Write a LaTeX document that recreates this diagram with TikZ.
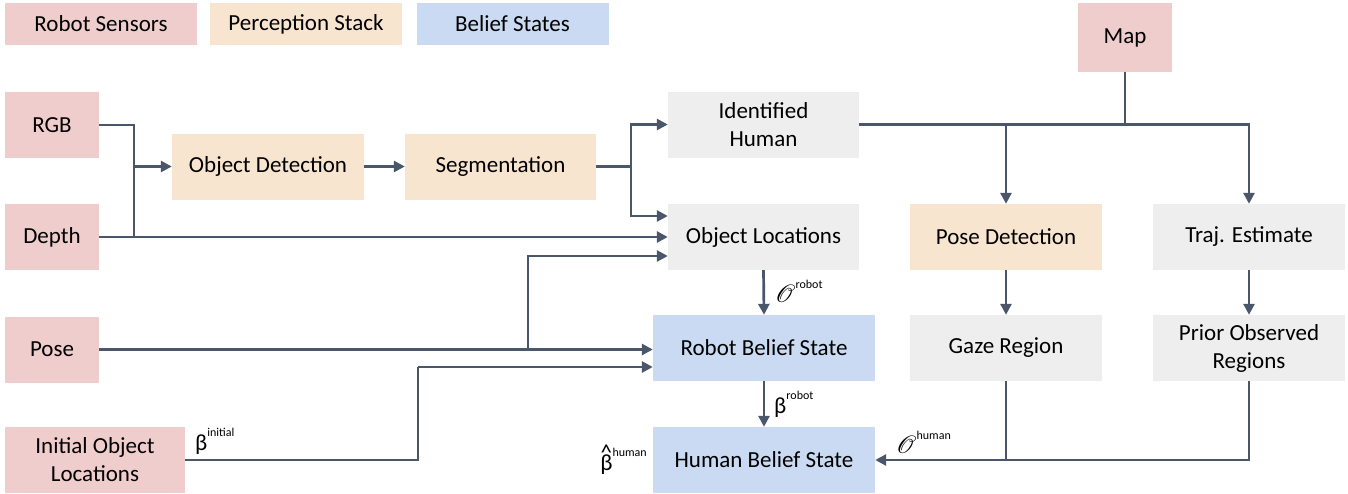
\documentclass[tikz,border=0pt]{standalone}
\usepackage{fontspec}
\usepackage{mathrsfs}
\setmainfont{Carlito}
\usetikzlibrary{arrows.meta}
\definecolor{sensorc}{RGB}{239,205,204}
\definecolor{percc}{RGB}{248,229,208}
\definecolor{beliefc}{RGB}{202,218,243}
\definecolor{grayc}{RGB}{238,238,238}
\definecolor{linec}{RGB}{74,86,106}
\newcommand{\sps}[1]{\raisebox{0.62em}{\fontsize{12pt}{12pt}\selectfont #1}}
\newcommand{\bhat}{\leavevmode\setbox0\hbox{β}\rlap{\hbox to \wd0{\hss\raisebox{0.42em}{\^{}}\hss}}\box0}
\begin{document}
\begin{tikzpicture}[x=1pt,y=-1pt,
  box/.style={inner sep=0pt, align=center, font=\fontsize{23pt}{28pt}\selectfont, minimum height=66pt},
  sensor/.style={box, fill=sensorc},
  perc/.style={box, fill=percc},
  belief/.style={box, fill=beliefc},
  plain/.style={box, fill=grayc},
  legend/.style={inner sep=0pt, font=\fontsize{23pt}{28pt}\selectfont, minimum width=192pt, minimum height=42pt},
  conn/.style={draw=linec, line width=2.7pt},
  arr/.style={conn, -{Triangle[length=11pt,width=11pt]}},
  lbl/.style={inner sep=0pt, font=\fontsize{23pt}{28pt}\selectfont, anchor=west}
]
\useasboundingbox (0,0) rectangle (1348,493);
% legend
\node[legend, fill=sensorc] (lg1) at (101,24) {Robot Sensors};
\node[legend, fill=percc] (lg2) at (306,24) {Perception Stack};
\node[legend, fill=beliefc] (lg3) at (512.5,24) {Belief States};
% sensors
\node[sensor, minimum width=94pt, minimum height=69pt] (map) at (1125,37.5) {Map};
\node[sensor, minimum width=94pt] (rgb) at (52,125) {RGB};
\node[sensor, minimum width=94pt] (depth) at (52,237) {Depth};
\node[sensor, minimum width=94pt] (pose) at (52,349.5) {Pose};
\node[sensor, minimum width=180pt] (iol) at (95,460) {Initial Object\\Locations};
% perception
\node[perc, minimum width=192pt] (od) at (268,166.5) {Object Detection};
\node[perc, minimum width=191pt] (seg) at (500.5,166.5) {Segmentation};
\node[plain, minimum width=191pt] (ih) at (763.5,124.5) {Identified\\Human};
\node[plain, minimum width=191pt] (ol) at (763.5,237) {Object Locations};
\node[perc, minimum width=192pt] (pd) at (1006,237) {Pose Detection};
\node[plain, minimum width=192pt] (tr) at (1249,237) {Traj. Estimate};
\node[belief, minimum width=222pt] (rbs) at (764,348) {Robot Belief State};
\node[plain, minimum width=192pt] (gz) at (1006,348) {Gaze Region};
\node[plain, minimum width=192pt] (pr) at (1249,348) {Prior Observed\\Regions};
\node[belief, minimum width=222pt] (hbs) at (764,460) {Human Belief State};
% junctions
\coordinate (j1) at (134,237);
\coordinate (j2) at (134,166.5);
\coordinate (j3) at (631,166.5);
\coordinate (jp) at (528,349.5);
\coordinate (ji) at (418,367);
% connectors
\draw[conn] (rgb.east) -| (j1);
\draw[arr] (j2) -- (od.west);
\draw[arr] (depth.east) -- (ol.west);
\draw[arr] (od.east) -- (seg.west);
\draw[conn] (seg.east) -- (j3);
\draw[arr] (j3) |- (ih.west);
\draw[arr] (j3) |- ([yshift=21pt]ol.west);
\draw[arr] (pose.east) -- (pose.east -| rbs.west);
\draw[arr] (jp) |- ([yshift=-19pt]ol.west);
\draw[conn] (iol.east) -| (ji);
\draw[arr] (ji) -- (ji -| rbs.west);
\draw[arr] (ol.south) -- (rbs.north);
\draw[arr] (rbs.south) -- (hbs.north);
\draw[arr] (ih.east) -| (tr.north);
\draw[conn] (map.south) -- (map.south |- ih.east);
\draw[arr] (pd.north |- ih.east) -- (pd.north);
\draw[arr] (pd.south) -- (gz.north);
\draw[arr] (tr.south) -- (pr.north);
\draw[conn] (gz.south) -- (gz.south |- hbs.east);
\draw[arr] (pr.south) |- (hbs.east);
% labels
\node[lbl] (lorobot) at (775,291) {$\mathscr{O}$\sps{robot}};
\node[lbl] (lbrobot) at (774,404) {β\sps{robot}};
\node[lbl, anchor=east] (lbhuman) at (647,460) {\bhat\sps{human}};
\node[lbl] (lohuman) at (896,442) {$\mathscr{O}$\sps{human}};
\node[lbl] (lbinit) at (195,441) {β\sps{initial}};
\end{tikzpicture}
\end{document}
